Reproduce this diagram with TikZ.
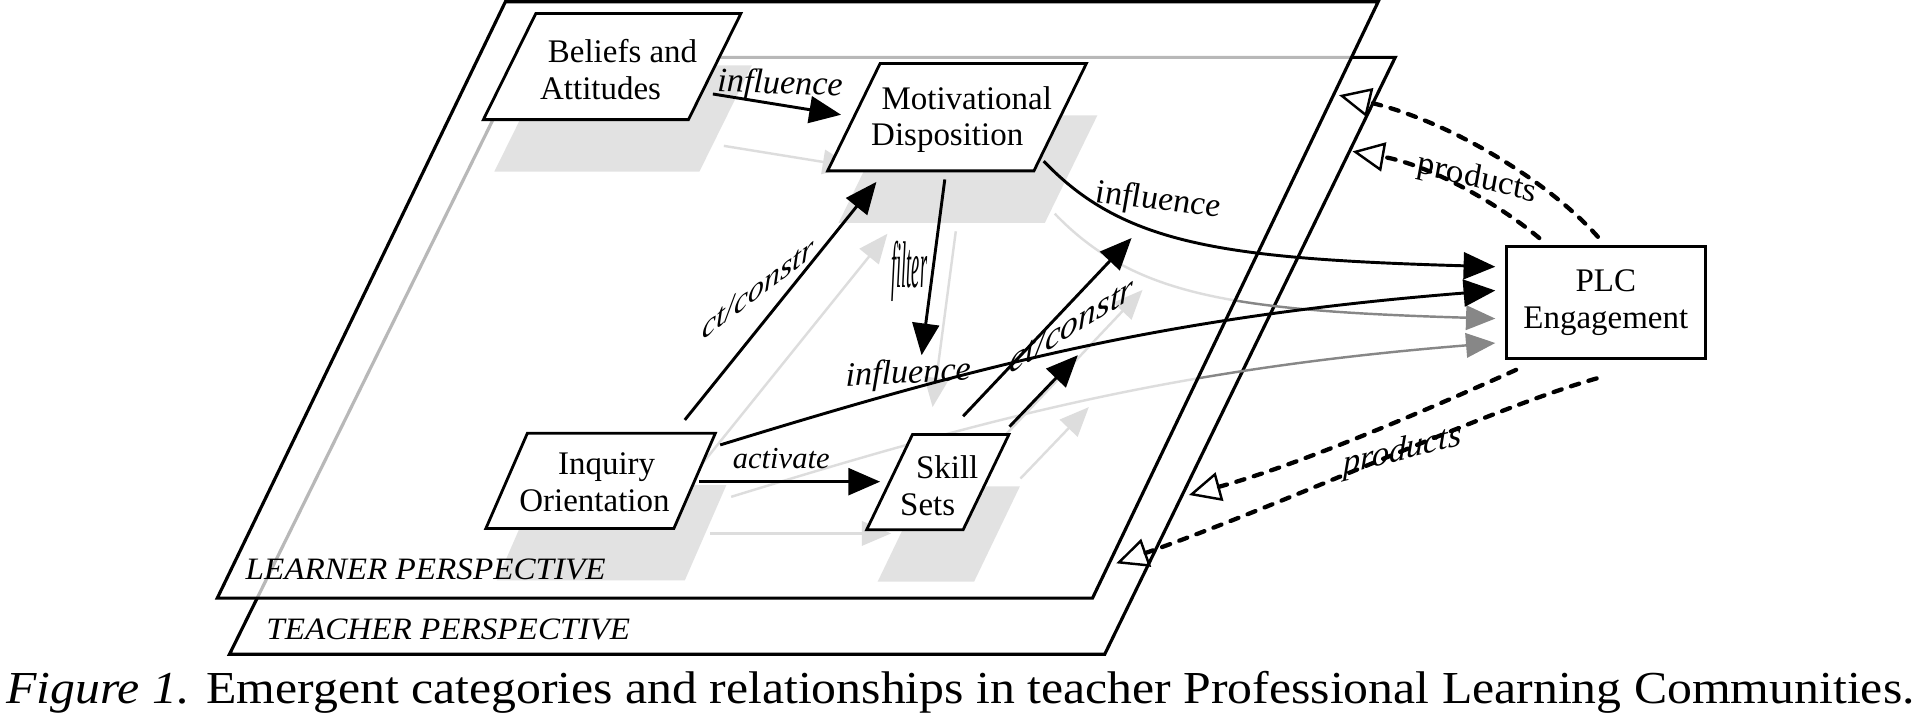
\documentclass[tikz,border=0pt]{standalone}
\usepackage{fontspec}
\setmainfont{Liberation Serif}
\usetikzlibrary{arrows.meta}
\begin{document}
\begin{tikzpicture}[x=1pt,y=-1pt,
  plane/.style={line width=2.6pt, line join=miter},
  boxline/.style={draw=black, fill=white, line width=2.3pt, line join=miter},
  shadowbox/.style={fill=black!40, draw=none},
  boxtext/.style={font=\fontsize{27}{30}\selectfont, align=center, inner sep=0pt},
  lbl/.style={font=\fontsize{28}{30}\selectfont\itshape, inner sep=0pt},
  persp/.style={font=\fontsize{25.5}{28}\selectfont\itshape, inner sep=0pt, anchor=base west, xscale=1.065},
  arr/.style={line width=2.4pt, -{Triangle[length=26pt,width=22pt]}},
  tarr/.style={line width=2pt, color=black!47, -{Triangle[length=24pt,width=20pt]}},
  prod/.style={line width=3.5pt, dash pattern=on 7pt off 8pt, line cap=round,
    -{Triangle[open,length=26pt,width=24pt,line width=2pt]}}
]
\useasboundingbox (0,0) rectangle (1568,591.5);

% ---------- teacher plane ----------
\draw[plane, fill=white] (188,536) -- (905,536) -- (1143,47) -- (429,47) -- cycle;
\node[persp] (tpers) at (218,524) {TEACHER PERSPECTIVE};

% teacher boxes (seen through)
\fill[shadowbox] (405,140.5) -- ++(168,0) -- ++(43,-87) -- ++(-168,0) -- cycle;
\fill[shadowbox] (687,182.5) -- ++(169,0) -- ++(43,-88) -- ++(-169,0) -- cycle;
\fill[shadowbox] (407,475.5) -- ++(154,0) -- ++(34,-78) -- ++(-154,0) -- cycle;
\fill[shadowbox] (719,476.5) -- ++(79,0) -- ++(37.5,-78) -- ++(-79,0) -- cycle;

% teacher connectors
\coordinate (t1s) at (593,119.5); \coordinate (t1e) at (698,136.5);
\coordinate (t2s) at (864,175);   \coordinate (t2e) at (1225,261);
\coordinate (t3s) at (570,386.5); \coordinate (t3e) at (727,191.5);
\coordinate (t4s) at (783,189.5); \coordinate (t4e) at (764,333.5);
\coordinate (t5s) at (599,407);   \coordinate (t5e) at (1225,281);
\coordinate (t6s) at (798,383.5); \coordinate (t6e) at (936,237.5);
\coordinate (t7s) at (836,392);   \coordinate (t7e) at (892,333.5);
\coordinate (t8s) at (582,437);   \coordinate (t8e) at (730,437);
\draw[tarr] (t1s) -- (t1e);
\draw[tarr] (t2s) .. controls (929,242.5) and (1009,254.5) .. (t2e);
\draw[tarr] (t3s) -- (t3e);
\draw[tarr] (t4s) -- (t4e);
\draw[tarr] (t5s) .. controls (809,342.5) and (959,302.5) .. (t5e);
\draw[tarr] (t6s) -- (t6e);
\draw[tarr] (t7s) -- (t7e);
\draw[tarr] (t8s) -- (t8e);

% ---------- learner plane (translucent) ----------
\fill[white, opacity=0.72] (178,490) -- (895,490) -- (1129,1.5) -- (414,1.5) -- cycle;
\draw[plane] (178,490) -- (895,490) -- (1129,1.5) -- (414,1.5) -- cycle;
\node[persp] (lpers) at (201,475) {LEARNER PERSPECTIVE};

% learner boxes
\draw[boxline] (396,98) -- ++(168,0) -- ++(43,-87) -- ++(-168,0) -- cycle;
\node[boxtext] (bel) at (501,57) {\rule{18pt}{0pt}Beliefs and\\Attitudes\rule{18pt}{0pt}};
\draw[boxline] (678,140) -- ++(169,0) -- ++(43,-88) -- ++(-169,0) -- cycle;
\node[boxtext] (mot) at (784,98) {\rule{16pt}{0pt}Motivational\\Disposition\rule{16pt}{0pt}};
\draw[boxline] (398,433) -- ++(154,0) -- ++(34,-78) -- ++(-154,0) -- cycle;
\node[boxtext] (inq) at (492,395) {\rule{10pt}{0pt}Inquiry\\Orientation\rule{10pt}{0pt}};
\draw[boxline] (710,434) -- ++(79,0) -- ++(37.5,-78) -- ++(-79,0) -- cycle;
\node[boxtext] (skl) at (768,398) {\rule{16pt}{0pt}Skill\\Sets\rule{16pt}{0pt}};

% PLC box
\node[boxtext, draw, fill=white, line width=2.3pt, minimum width=163pt, minimum height=92pt] (plc) at (1315.5,248) {PLC\\Engagement};

% learner connectors
\coordinate (a1s) at (584,77);    \coordinate (a1e) at (689,94);
\coordinate (a2s) at (855,132);   \coordinate (a2e) at (1225,218.5);
\coordinate (a3s) at (561,344);   \coordinate (a3e) at (718,149);
\coordinate (a4s) at (774,147);   \coordinate (a4e) at (755,291);
\coordinate (a5s) at (590,364.5); \coordinate (a5e) at (1225,238);
\coordinate (a6s) at (789,341);   \coordinate (a6e) at (927,195);
\coordinate (a7s) at (827,349.5); \coordinate (a7e) at (883,291);
\coordinate (a8s) at (573,394.6); \coordinate (a8e) at (721,394.6);
\draw[arr] (a1s) -- (a1e);
\draw[arr] (a2s) .. controls (920,200) and (1000,212) .. (a2e);
\draw[arr] (a3s) -- (a3e);
\draw[arr] (a4s) -- (a4e);
\draw[arr] (a5s) .. controls (800,300) and (950,260) .. (a5e);
\draw[arr] (a6s) -- (a6e);
\draw[arr] (a7s) -- (a7e);
\draw[arr] (a8s) -- (a8e);

% labels
\node[lbl, rotate=-2] (l1) at (639,70) {influence};
\node[lbl, yslant=-0.12] (l2) at (949,165) {influence};
\node[lbl, font=\fontsize{15}{16}\selectfont\itshape, yscale=3.6] (l3) at (745,222) {filter};
\node[lbl, yslant=0.05] (l4) at (744,307) {influence};
\node[lbl, font=\fontsize{26}{28}\selectfont\itshape, yslant=0.75] (l5) at (621,236) {ct/constr};
\node[lbl, font=\fontsize{29}{31}\selectfont\itshape, yslant=0.62] (l6) at (878,266) {ct/constr};
\node[lbl, font=\fontsize{25}{27}\selectfont\itshape] (l7) at (640,376) {activate};

% products (dashed)
\coordinate (p1s) at (1309,194); \coordinate (p1e) at (1097,78);
\coordinate (p2s) at (1261,195); \coordinate (p2e) at (1108,124);
\coordinate (p3s) at (1242,303); \coordinate (p3e) at (974,405.5);
\coordinate (p4s) at (1308,310); \coordinate (p4e) at (914.5,461.5);
\draw[prod] (p1s) .. controls (1270,150) and (1190,100) .. (p1e);
\draw[prod] (p2s) .. controls (1225,165) and (1170,135) .. (p2e);
\draw[prod] (p3s) .. controls (1160,340) and (1060,382) .. (p3e);
\draw[prod] (p4s) .. controls (1220,335) and (1060,410) .. (p4e);
\node[lbl, yslant=-0.25] (l8) at (1210,147) {products};
\node[lbl, yslant=0.25] (l9) at (1149,370) {products};

% caption
\node[inner sep=0pt, anchor=base west, xscale=1.087, font=\fontsize{37.5}{40}\selectfont] (cap) at (5,576)
  {\textit{Figure 1.} Emergent categories and relationships in teacher Professional Learning Communities.};
\end{tikzpicture}
\end{document}
